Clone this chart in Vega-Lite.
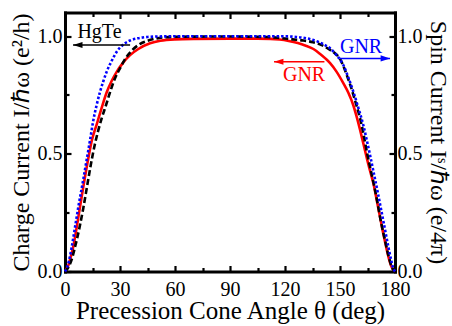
{
  "$schema": "https://vega.github.io/schema/vega-lite/v6.json",
  "autosize": "none",
  "width": 330,
  "height": 259,
  "padding": {"left": 65, "right": 57, "top": 12.5, "bottom": 54.5},
  "background": "white",
  "config": {
    "view": {"stroke": null},
    "axis": {
      "grid": false,
      "domainColor": "black",
      "domainWidth": 3,
      "domainCap": "square",
      "tickColor": "black",
      "tickWidth": 2.2,
      "labelFont": "Liberation Serif",
      "labelFontSize": 20,
      "labelColor": "black",
      "labelOverlap": false,
      "titleFont": "Liberation Serif",
      "titleFontSize": 24,
      "titleFontWeight": "normal",
      "titleColor": "black"
    }
  },
  "datasets": {
    "curves": [
      {"s": "GNRc", "t": 0, "v": 0}, {"s": "GNRc", "t": 1, "v": 0.012}, {"s": "GNRc", "t": 2, "v": 0.03}, {"s": "GNRc", "t": 3, "v": 0.058},
      {"s": "GNRc", "t": 4.5, "v": 0.105}, {"s": "GNRc", "t": 6, "v": 0.17}, {"s": "GNRc", "t": 8.2, "v": 0.275}, {"s": "GNRc", "t": 10, "v": 0.36},
      {"s": "GNRc", "t": 12.7, "v": 0.48}, {"s": "GNRc", "t": 14.6, "v": 0.555}, {"s": "GNRc", "t": 17.3, "v": 0.625}, {"s": "GNRc", "t": 20, "v": 0.695},
      {"s": "GNRc", "t": 22.7, "v": 0.76}, {"s": "GNRc", "t": 25.5, "v": 0.81}, {"s": "GNRc", "t": 28.2, "v": 0.848}, {"s": "GNRc", "t": 31.5, "v": 0.885},
      {"s": "GNRc", "t": 35.5, "v": 0.919}, {"s": "GNRc", "t": 40, "v": 0.945}, {"s": "GNRc", "t": 46.4, "v": 0.969}, {"s": "GNRc", "t": 52, "v": 0.98},
      {"s": "GNRc", "t": 60, "v": 0.986}, {"s": "GNRc", "t": 70, "v": 0.988}, {"s": "GNRc", "t": 90, "v": 0.989}, {"s": "GNRc", "t": 105, "v": 0.989},
      {"s": "GNRc", "t": 112, "v": 0.988}, {"s": "GNRc", "t": 117, "v": 0.985}, {"s": "GNRc", "t": 122, "v": 0.979}, {"s": "GNRc", "t": 127, "v": 0.97},
      {"s": "GNRc", "t": 131, "v": 0.96}, {"s": "GNRc", "t": 135.5, "v": 0.945}, {"s": "GNRc", "t": 139, "v": 0.925}, {"s": "GNRc", "t": 142, "v": 0.905},
      {"s": "GNRc", "t": 144.6, "v": 0.885}, {"s": "GNRc", "t": 148, "v": 0.85}, {"s": "GNRc", "t": 151.8, "v": 0.8}, {"s": "GNRc", "t": 154.5, "v": 0.76},
      {"s": "GNRc", "t": 157.3, "v": 0.705}, {"s": "GNRc", "t": 159, "v": 0.66}, {"s": "GNRc", "t": 161, "v": 0.6}, {"s": "GNRc", "t": 163, "v": 0.535},
      {"s": "GNRc", "t": 165, "v": 0.47}, {"s": "GNRc", "t": 167, "v": 0.41}, {"s": "GNRc", "t": 168.2, "v": 0.375}, {"s": "GNRc", "t": 170, "v": 0.305},
      {"s": "GNRc", "t": 172, "v": 0.225}, {"s": "GNRc", "t": 173.5, "v": 0.165}, {"s": "GNRc", "t": 175, "v": 0.11}, {"s": "GNRc", "t": 176.5, "v": 0.06},
      {"s": "GNRc", "t": 178, "v": 0.022}, {"s": "GNRc", "t": 179, "v": 0.007}, {"s": "GNRc", "t": 180, "v": 0},

      {"s": "HgTe", "t": 0, "v": 0}, {"s": "HgTe", "t": 2, "v": 0.02}, {"s": "HgTe", "t": 4, "v": 0.06}, {"s": "HgTe", "t": 5.5, "v": 0.105},
      {"s": "HgTe", "t": 8, "v": 0.19}, {"s": "HgTe", "t": 10, "v": 0.27}, {"s": "HgTe", "t": 12, "v": 0.36}, {"s": "HgTe", "t": 14, "v": 0.45},
      {"s": "HgTe", "t": 16, "v": 0.53}, {"s": "HgTe", "t": 18, "v": 0.595}, {"s": "HgTe", "t": 20, "v": 0.65}, {"s": "HgTe", "t": 22.5, "v": 0.71},
      {"s": "HgTe", "t": 24.5, "v": 0.76}, {"s": "HgTe", "t": 27, "v": 0.815}, {"s": "HgTe", "t": 30, "v": 0.863}, {"s": "HgTe", "t": 33, "v": 0.905},
      {"s": "HgTe", "t": 37.3, "v": 0.945}, {"s": "HgTe", "t": 41, "v": 0.967}, {"s": "HgTe", "t": 44.6, "v": 0.979}, {"s": "HgTe", "t": 50, "v": 0.99},
      {"s": "HgTe", "t": 55, "v": 0.995}, {"s": "HgTe", "t": 60, "v": 0.997}, {"s": "HgTe", "t": 90, "v": 0.998}, {"s": "HgTe", "t": 110, "v": 0.996},
      {"s": "HgTe", "t": 117, "v": 0.992}, {"s": "HgTe", "t": 124, "v": 0.986}, {"s": "HgTe", "t": 130, "v": 0.981}, {"s": "HgTe", "t": 135.3, "v": 0.974},
      {"s": "HgTe", "t": 140, "v": 0.962}, {"s": "HgTe", "t": 144.6, "v": 0.941}, {"s": "HgTe", "t": 147.5, "v": 0.925}, {"s": "HgTe", "t": 150, "v": 0.903},
      {"s": "HgTe", "t": 152, "v": 0.87}, {"s": "HgTe", "t": 153.7, "v": 0.834}, {"s": "HgTe", "t": 155.5, "v": 0.795}, {"s": "HgTe", "t": 157.3, "v": 0.75},
      {"s": "HgTe", "t": 159, "v": 0.705}, {"s": "HgTe", "t": 160.9, "v": 0.652}, {"s": "HgTe", "t": 162.8, "v": 0.585}, {"s": "HgTe", "t": 164.6, "v": 0.51},
      {"s": "HgTe", "t": 166.5, "v": 0.44}, {"s": "HgTe", "t": 168.5, "v": 0.37}, {"s": "HgTe", "t": 170.5, "v": 0.29}, {"s": "HgTe", "t": 172.5, "v": 0.205},
      {"s": "HgTe", "t": 174.5, "v": 0.135}, {"s": "HgTe", "t": 176.5, "v": 0.065}, {"s": "HgTe", "t": 178, "v": 0.025}, {"s": "HgTe", "t": 179, "v": 0.008},
      {"s": "HgTe", "t": 180, "v": 0},

      {"s": "GNRs", "t": 0, "v": 0}, {"s": "GNRs", "t": 1, "v": 0.015}, {"s": "GNRs", "t": 2, "v": 0.04}, {"s": "GNRs", "t": 3.7, "v": 0.105},
      {"s": "GNRs", "t": 5.5, "v": 0.19}, {"s": "GNRs", "t": 7.3, "v": 0.275}, {"s": "GNRs", "t": 9.5, "v": 0.37}, {"s": "GNRs", "t": 11.5, "v": 0.46},
      {"s": "GNRs", "t": 13.6, "v": 0.555}, {"s": "GNRs", "t": 15.4, "v": 0.64}, {"s": "GNRs", "t": 17.2, "v": 0.705}, {"s": "GNRs", "t": 19.1, "v": 0.763},
      {"s": "GNRs", "t": 20.9, "v": 0.808}, {"s": "GNRs", "t": 22.7, "v": 0.848}, {"s": "GNRs", "t": 25.5, "v": 0.895}, {"s": "GNRs", "t": 28.2, "v": 0.933},
      {"s": "GNRs", "t": 31.5, "v": 0.962}, {"s": "GNRs", "t": 35.5, "v": 0.981}, {"s": "GNRs", "t": 40, "v": 0.991}, {"s": "GNRs", "t": 45, "v": 0.996},
      {"s": "GNRs", "t": 50, "v": 0.998}, {"s": "GNRs", "t": 60, "v": 0.999}, {"s": "GNRs", "t": 120, "v": 0.999}, {"s": "GNRs", "t": 126, "v": 0.996},
      {"s": "GNRs", "t": 132, "v": 0.99}, {"s": "GNRs", "t": 138, "v": 0.976}, {"s": "GNRs", "t": 141.5, "v": 0.963}, {"s": "GNRs", "t": 144.6, "v": 0.948},
      {"s": "GNRs", "t": 148, "v": 0.92}, {"s": "GNRs", "t": 150, "v": 0.9}, {"s": "GNRs", "t": 151.8, "v": 0.877}, {"s": "GNRs", "t": 154.5, "v": 0.825},
      {"s": "GNRs", "t": 157.3, "v": 0.763}, {"s": "GNRs", "t": 160, "v": 0.695}, {"s": "GNRs", "t": 162.7, "v": 0.622}, {"s": "GNRs", "t": 164.6, "v": 0.558},
      {"s": "GNRs", "t": 166.5, "v": 0.49}, {"s": "GNRs", "t": 168.5, "v": 0.415}, {"s": "GNRs", "t": 170.5, "v": 0.34}, {"s": "GNRs", "t": 172.5, "v": 0.26},
      {"s": "GNRs", "t": 174.5, "v": 0.18}, {"s": "GNRs", "t": 176.5, "v": 0.1}, {"s": "GNRs", "t": 178, "v": 0.045}, {"s": "GNRs", "t": 179, "v": 0.015},
      {"s": "GNRs", "t": 180, "v": 0}
    ],
    "arrows": [
      {"s": "HgTe", "head": 4.4, "tail": 35.5, "v": 0.962, "dir": "left"},
      {"s": "GNRc", "head": 114, "tail": 141.5, "v": 0.891, "dir": "left"},
      {"s": "GNRs", "head": 177.3, "tail": 150, "v": 0.905, "dir": "right"}
    ],
    "labels": [
      {"s": "HgTe", "text": "HgTe", "t": 18.8, "v": 0.99},
      {"s": "GNRc", "text": "GNR", "t": 130.4, "v": 0.809},
      {"s": "GNRs", "text": "GNR", "t": 161.5, "v": 0.928}
    ]
  },
  "layer": [
    {
      "data": {"name": "curves"},
      "transform": [{"filter": "datum.s === 'GNRc'"}],
      "mark": {"type": "line", "color": "#ff0000", "strokeWidth": 2.6, "interpolate": "monotone"},
      "encoding": {
        "x": {
          "field": "t", "type": "quantitative",
          "scale": {"domain": [0, 180], "nice": false, "zero": false},
          "axis": {
            "orient": "bottom",
            "values": [0, 30, 60, 90, 120, 150, 180],
            "format": "d",
            "ticks": false,
            "labelFlush": false,
            "labelPadding": 8,
            "title": "Precession Cone Angle θ (deg)",
            "titleFontSize": 25,
            "titleBaseline": "alphabetic",
            "titleY": 46.5
          }
        },
        "y": {
          "field": "v", "type": "quantitative",
          "scale": {"domain": [0, 1.1], "nice": false},
          "axis": {
            "orient": "left",
            "values": [0, 0.5, 1.0],
            "format": ".1f",
            "ticks": false,
            "labelPadding": 3,
            "title": "Charge Current I/ℏω (e²/h)",
            "titleAngle": 270,
            "titleBaseline": "alphabetic",
            "titleX": -37
          }
        }
      }
    },
    {
      "data": {"name": "curves"},
      "transform": [{"filter": "datum.s === 'HgTe'"}],
      "mark": {"type": "line", "color": "#000000", "strokeWidth": 2.6, "strokeDash": [6, 3], "interpolate": "monotone"},
      "encoding": {
        "x": {"field": "t", "type": "quantitative", "axis": {"orient": "bottom", "values": [0, 30, 60, 90, 120, 150, 180], "domain": false, "labels": false, "title": null, "tickSize": 6, "offset": -6}},
        "y": {"field": "v", "type": "quantitative", "axis": {"orient": "left", "values": [0, 0.5, 1.0], "domain": false, "labels": false, "title": null, "tickSize": 6, "offset": -6}}
      }
    },
    {
      "data": {"name": "curves"},
      "transform": [{"filter": "datum.s === 'GNRs'"}],
      "mark": {"type": "line", "color": "#0000ff", "strokeWidth": 2.6, "strokeDash": [2.5, 2], "interpolate": "monotone"},
      "encoding": {
        "x": {
          "field": "t", "type": "quantitative",
          "axis": {"orient": "top", "values": [], "ticks": false, "labels": false, "title": null}
        },
        "y": {
          "field": "v", "type": "quantitative",
          "axis": {
            "orient": "right",
            "values": [0, 0.5, 1.0],
            "format": ".1f",
            "ticks": false,
            "labelPadding": 2,
            "title": "Spin Current Iˢ/ℏω (e/4π)",
            "titleAngle": 90,
            "titleBaseline": "alphabetic",
            "titleX": 35
          }
        }
      }
    },
    {
      "data": {"name": "arrows"},
      "mark": {"type": "rule", "strokeWidth": 1.5},
      "encoding": {
        "x": {"field": "tail", "type": "quantitative", "axis": {"orient": "top", "values": [0, 30, 60, 90, 120, 150, 180], "domain": false, "labels": false, "title": null, "tickSize": 6, "offset": -6}},
        "x2": {"field": "head"},
        "y": {"field": "v", "type": "quantitative", "axis": {"orient": "right", "values": [0, 0.5, 1.0], "domain": false, "labels": false, "title": null, "tickSize": 6, "offset": -6}},
        "color": {"field": "s", "type": "nominal", "scale": {"domain": ["HgTe", "GNRc", "GNRs"], "range": ["#000000", "#ff0000", "#0000ff"]}, "legend": null}
      }
    },
    {
      "data": {"name": "arrows"},
      "transform": [{"filter": "datum.dir === 'left'"}],
      "mark": {"type": "point", "shape": "M-1,0L1,-0.65L1,0.65Z", "filled": true, "size": 90, "xOffset": 4.7, "opacity": 1},
      "encoding": {
        "x": {"field": "head", "type": "quantitative", "axis": {"orient": "bottom", "values": [15, 45, 75, 105, 135, 165], "domain": false, "labels": false, "title": null, "tickSize": 4, "offset": -4}},
        "y": {"field": "v", "type": "quantitative", "axis": {"orient": "left", "values": [0.25, 0.75], "domain": false, "labels": false, "title": null, "tickSize": 4, "offset": -4}},
        "color": {"field": "s", "type": "nominal", "legend": null}
      }
    },
    {
      "data": {"name": "arrows"},
      "transform": [{"filter": "datum.dir === 'right'"}],
      "mark": {"type": "point", "shape": "M1,0L-1,-0.65L-1,0.65Z", "filled": true, "size": 90, "xOffset": -4.7, "opacity": 1},
      "encoding": {
        "x": {"field": "head", "type": "quantitative", "axis": {"orient": "top", "values": [15, 45, 75, 105, 135, 165], "domain": false, "labels": false, "title": null, "tickSize": 4, "offset": -4}},
        "y": {"field": "v", "type": "quantitative", "axis": {"orient": "right", "values": [0.25, 0.75], "domain": false, "labels": false, "title": null, "tickSize": 4, "offset": -4}},
        "color": {"field": "s", "type": "nominal", "legend": null}
      }
    },
    {
      "data": {"name": "labels"},
      "mark": {"type": "text", "font": "Liberation Serif", "fontSize": 20, "align": "center", "baseline": "alphabetic"},
      "encoding": {
        "x": {"field": "t", "type": "quantitative", "axis": null},
        "y": {"field": "v", "type": "quantitative", "axis": null},
        "text": {"field": "text"},
        "color": {"field": "s", "type": "nominal", "legend": null}
      }
    }
  ],
  "resolve": {"axis": {"x": "independent", "y": "independent"}}
}
